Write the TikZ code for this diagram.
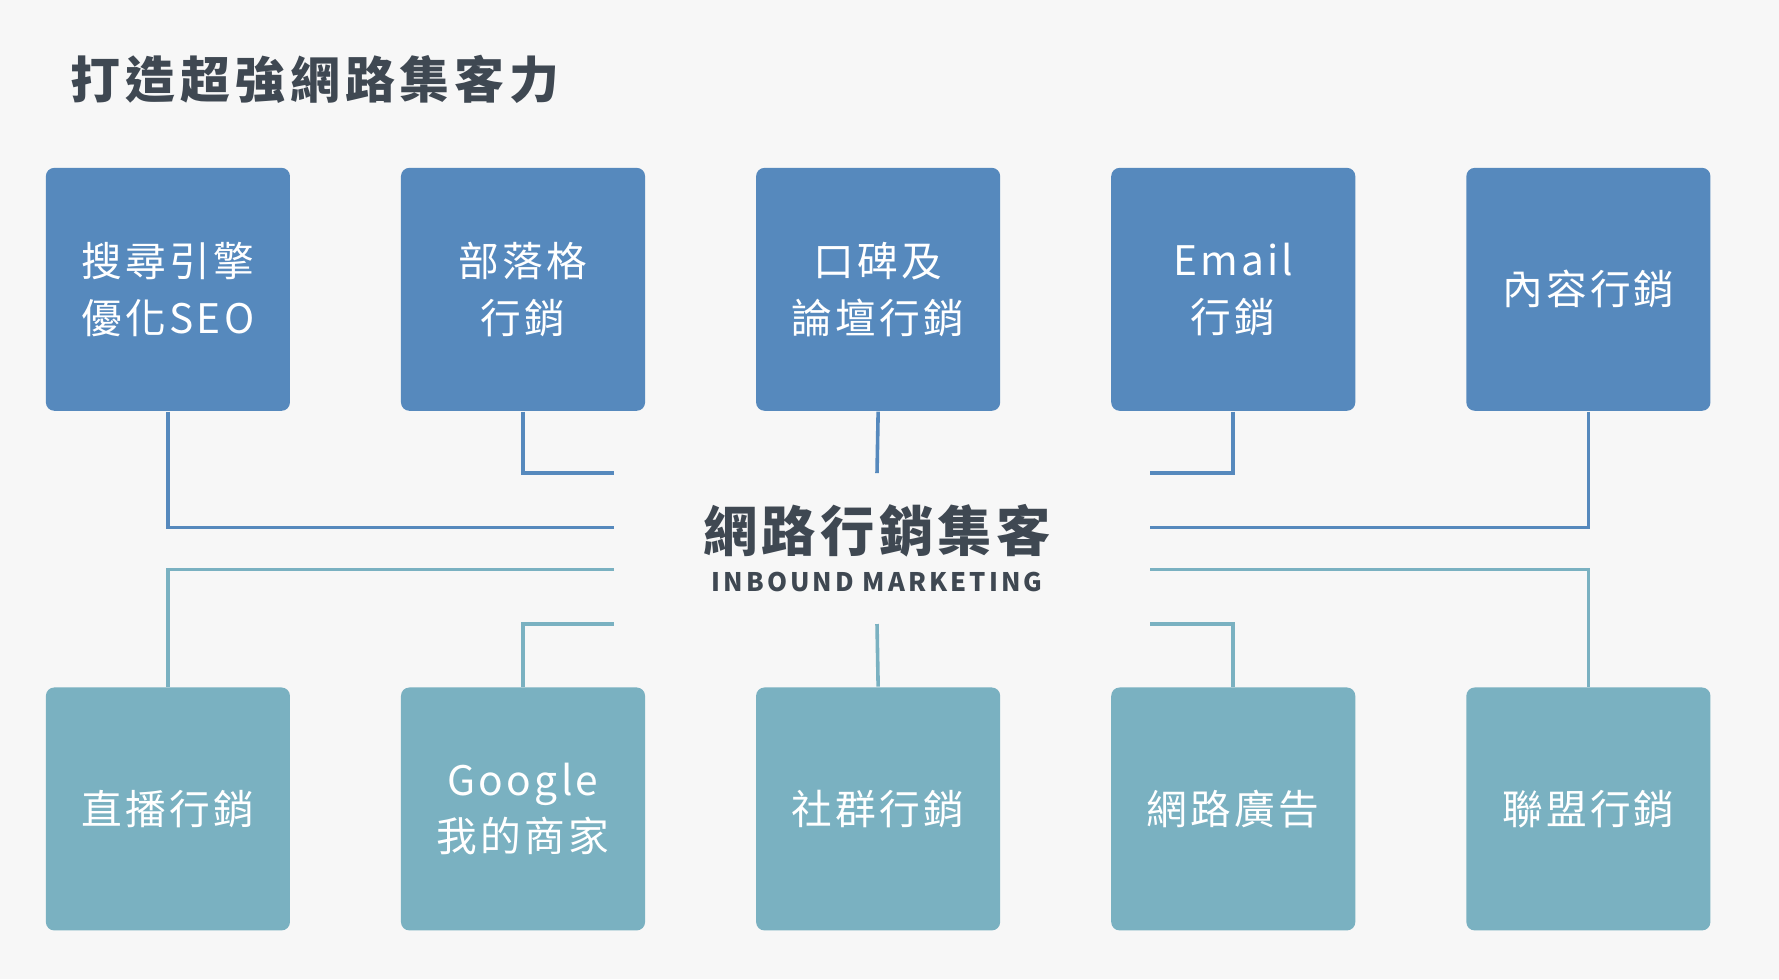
\documentclass[tikz,border=0pt]{standalone}
\usepackage{fontspec}
\setmainfont{Noto Sans CJK TC}
\newfontfamily\cjkb[BoldFont={Noto Sans CJK TC Bold}]{Noto Sans CJK TC}
\definecolor{bg}{HTML}{F7F7F7}
\definecolor{topc}{HTML}{5689BD}
\definecolor{botc}{HTML}{7AB1C1}
\definecolor{txt}{HTML}{3F4852}
\begin{document}
\begin{tikzpicture}[x=0.01cm,y=-0.01cm,
  box/.style={rounded corners=6pt*0.2845/0.2845*0.35,minimum width=2.15cm,minimum height=2.14cm,text=white,align=center,inner sep=0pt,
    font=\fontsize{10.2}{14.2}\selectfont\addfontfeature{LetterSpace=8}},
  tb/.style={box,fill=topc},
  bb/.style={box,fill=botc},
  tl/.style={draw=topc,line width=0.9pt},
  bl/.style={draw=botc,line width=0.9pt}]
\fill[bg] (0,0) rectangle (1568,863);
\useasboundingbox (0,0) rectangle (1568,863);
\node[anchor=west,text=txt,font=\fontsize{12.5}{14}\selectfont\bfseries\addfontfeature{LetterSpace=10}] (title) at (50,70) {打造超強網路集客力};
\node[tb] (t1) at (148,255) {搜尋引擎\\優化SEO};
\node[tb] (t2) at (461,255) {部落格\\行銷};
\node[tb] (t3) at (774,255) {口碑及\\論壇行銷};
\node[tb] (t4) at (1087,255) {Email\\行銷};
\node[tb] (t5) at (1400,255) {內容行銷};
\node[bb] (b1) at (148,713) {直播行銷};
\node[bb] (b2) at (461,713) {Google\\我的商家};
\node[bb] (b3) at (774,713) {社群行銷};
\node[bb] (b4) at (1087,713) {網路廣告};
\node[bb] (b5) at (1400,713) {聯盟行銷};
\node[text=txt,font=\fontsize{13.6}{15}\selectfont\bfseries\addfontfeature{LetterSpace=8}] (c) at (773,468) {網路行銷集客};
\node[text=txt,font=\fontsize{6.4}{8}\selectfont\bfseries\addfontfeature{LetterSpace=12}] (c2) at (773,513) {INBOUND MARKETING};
\coordinate (L1) at (541,465); \coordinate (L2) at (541,417); \coordinate (L3) at (773,417);
\coordinate (R4) at (1014,417); \coordinate (R5) at (1014,465);
\coordinate (M1) at (541,502); \coordinate (M2) at (541,550); \coordinate (M3) at (773,550);
\coordinate (N4) at (1014,550); \coordinate (N5) at (1014,502);
\draw[tl] (t1.south) |- (L1);
\draw[tl] (t2.south) |- (L2);
\draw[tl] (t3.south) -- (L3);
\draw[tl] (t4.south) |- (R4);
\draw[tl] (t5.south) |- (R5);
\draw[bl] (b1.north) |- (M1);
\draw[bl] (b2.north) |- (M2);
\draw[bl] (b3.north) -- (M3);
\draw[bl] (b4.north) |- (N4);
\draw[bl] (b5.north) |- (N5);
\end{tikzpicture}
\end{document}
